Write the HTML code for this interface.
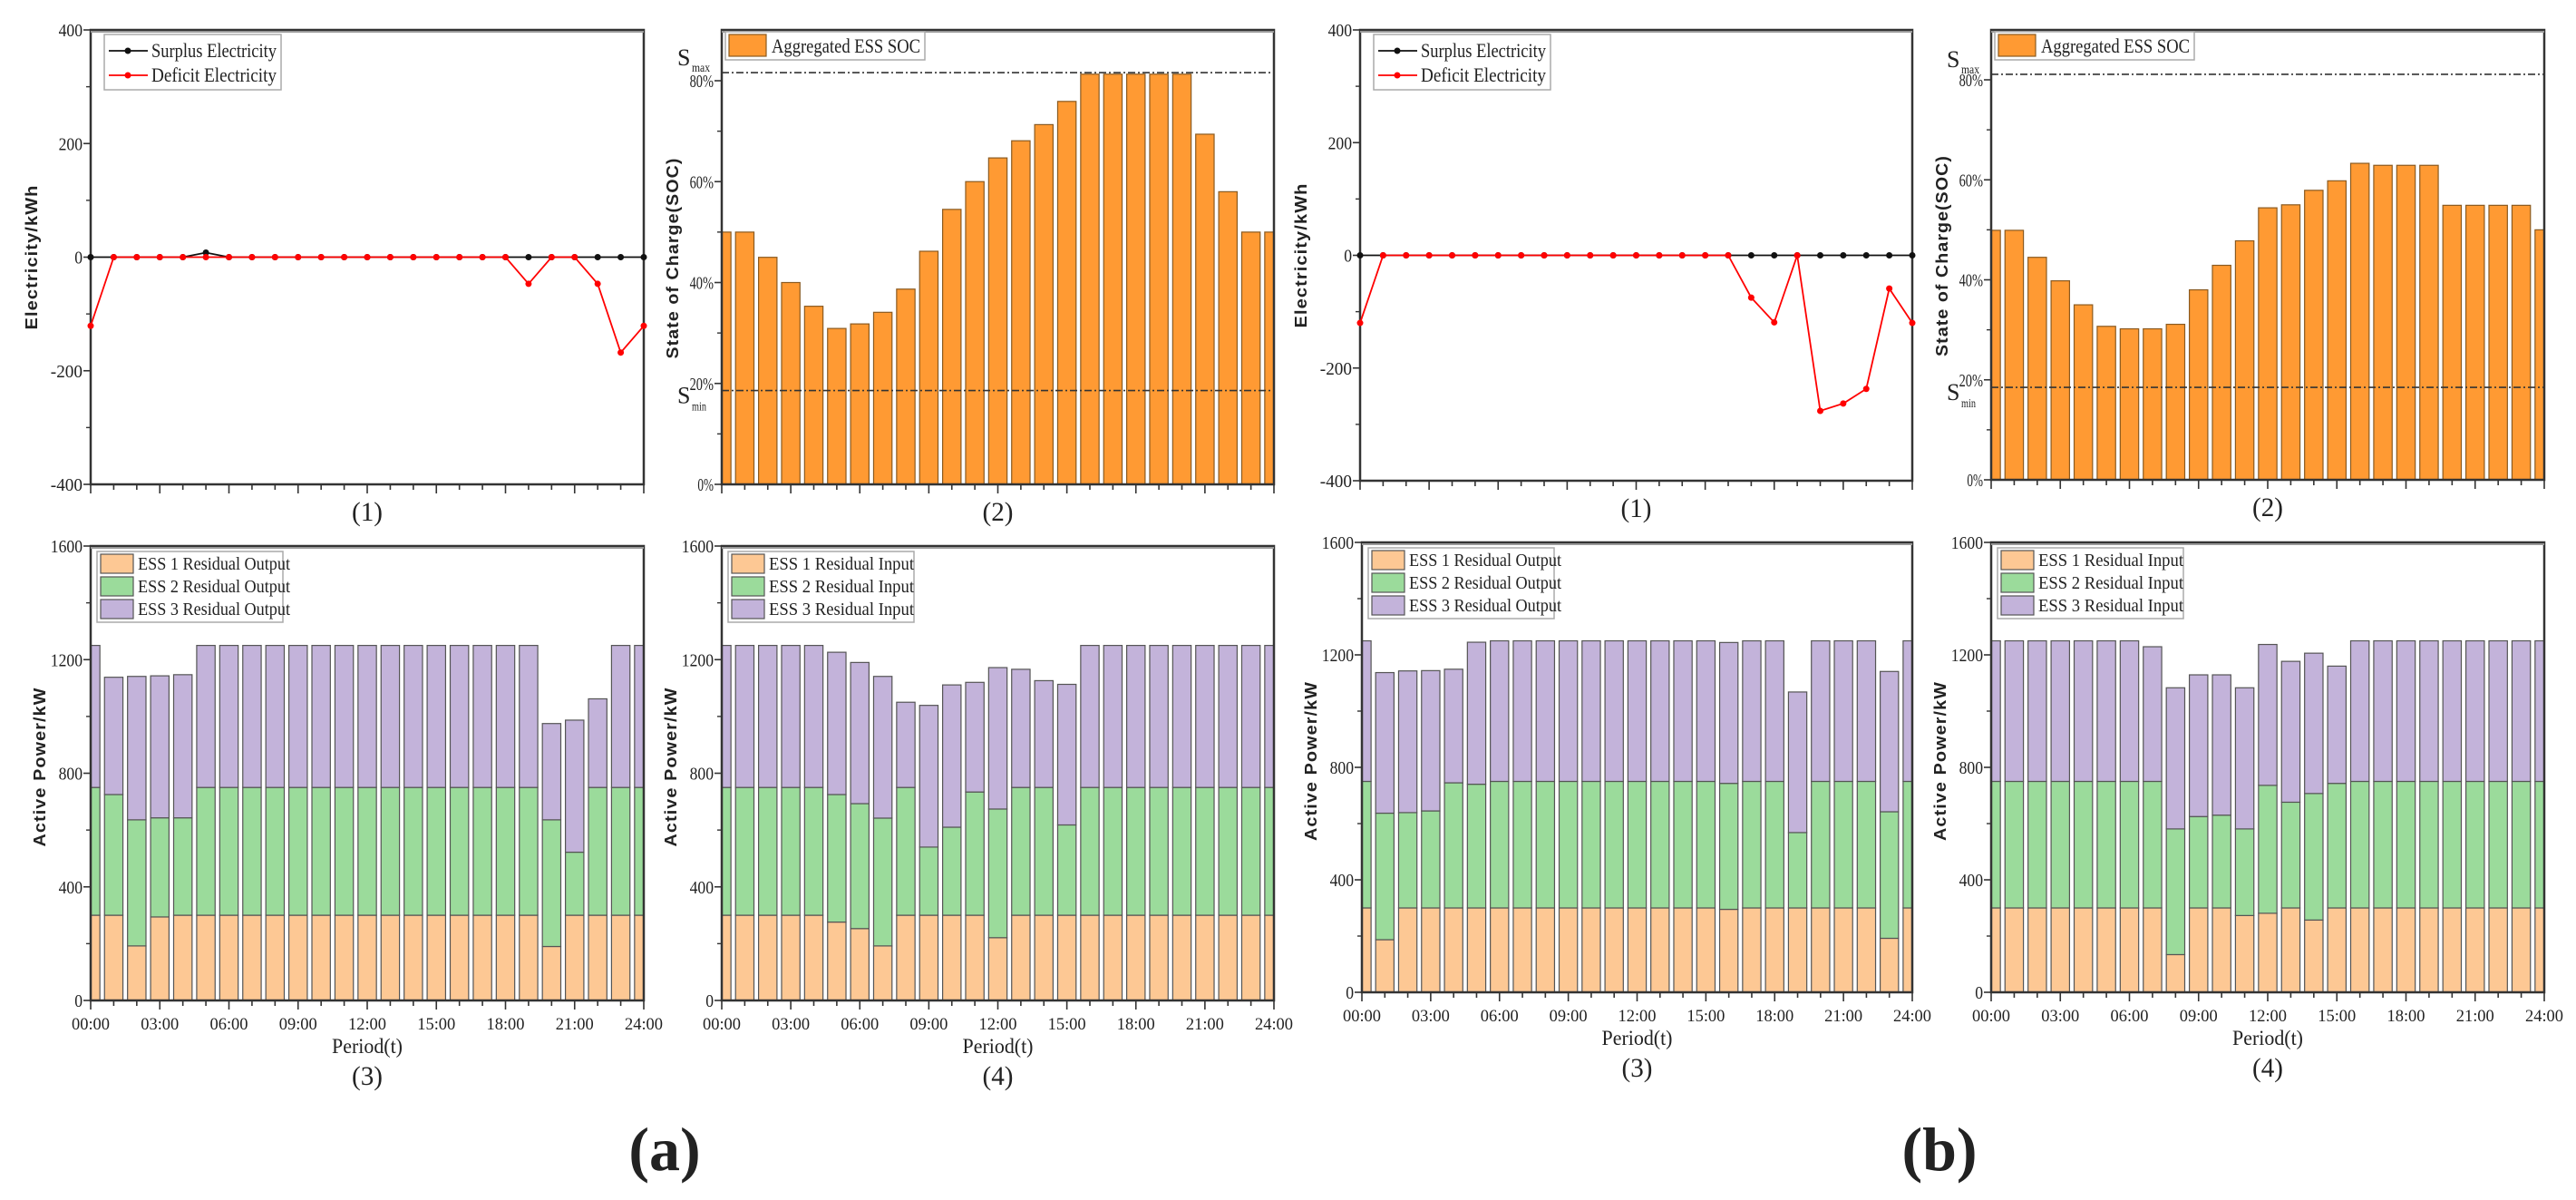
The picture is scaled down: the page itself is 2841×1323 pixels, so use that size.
<!DOCTYPE html>
<html><head><meta charset="utf-8">
<style>
html,body{margin:0;padding:0;background:#fff;}
svg{display:block;}
text{font-family:"Liberation Serif",serif;fill:#222;}
.sans{font-family:"Liberation Sans",sans-serif;}
</style></head>
<body>
<svg id="fig" xmlns="http://www.w3.org/2000/svg" width="2841" height="1323" viewBox="0 0 2841 1323">
<rect x="0" y="0" width="2841" height="1323" fill="#fff"/>
<text x="733" y="1290" font-size="68" font-weight="bold" text-anchor="middle">(a)</text>
<text x="2139" y="1290" font-size="68" font-weight="bold" text-anchor="middle">(b)</text>
</svg>
<script>
// ---------- data ----------
const hours = [0,1,2,3,4,5,6,7,8,9,10,11,12,13,14,15,16,17,18,19,20,21,22,23,24];
const xTickLabels = ["00:00","03:00","06:00","09:00","12:00","15:00","18:00","21:00","24:00"];
const elecTicks = [-400,-200,0,200,400];
const socTicks = [0,20,40,60,80];
const socTickLabels = ["0%","20%","40%","60%","80%"];
const powerTicks = [0,400,800,1200,1600];

const aSurplus = [0,0,0,0,0,8,0,0,0,0,0,0,0,0,0,0,0,0,0,0,0,0,0,0,0];
const aDeficit = [-121,0,0,0,0,0,0,0,0,0,0,0,0,0,0,0,0,0,0,-47,0,0,-47,-168,-121];
const bSurplus = [0,0,0,0,0,0,0,0,0,0,0,0,0,0,0,0,0,0,0,0,0,0,0,0,0];
const bDeficit = [-120,0,0,0,0,0,0,0,0,0,0,0,0,0,0,0,0,-75,-119,0,-276,-263,-237,-59,-120];

const aSoc = [50,50,45,40,35.3,30.9,31.8,34.1,38.7,46.2,54.5,60,64.7,68.1,71.3,75.9,81.3,81.3,81.3,81.3,81.3,69.4,58,50,50];
const bSoc = [49.9,49.9,44.5,39.8,35,30.7,30.2,30.2,31.1,38,42.9,47.8,54.4,55,57.9,59.8,63.3,62.9,62.9,62.9,54.9,54.9,54.9,54.9,50];
const aSocMax = 81.6, aSocMin = 18.6, bSocMax = 81.1, bSocMin = 18.5;

const a3Ess1 = [300,300,192,294,300,300,300,300,300,300,300,300,300,300,300,300,300,300,300,300,190,300,300,300,300];
const a3Ess2 = [450,425,444,349,343,450,450,450,450,450,450,450,450,450,450,450,450,450,450,450,446,222,450,450,450];
const a3Ess3 = [500,413,505,500,504,500,500,500,500,500,500,500,500,500,500,500,500,500,500,500,339,465,312,500,500];

const a4Ess1 = [300,300,300,300,300,276,253,192,300,300,300,300,221,300,300,300,300,300,300,300,300,300,300,300,300];
const a4Ess2 = [450,450,450,450,450,449,440,450,450,240,310,434,453,450,450,318,450,450,450,450,450,450,450,450,450];
const a4Ess3 = [500,500,500,500,500,501,497,499,300,499,501,386,498,416,376,495,500,500,500,500,500,500,500,500,500];

const b3Ess1 = [300,187,300,300,300,300,300,300,300,300,300,300,300,300,300,300,295,300,300,300,300,300,300,192,300];
const b3Ess2 = [450,450,339,345,445,440,450,450,450,450,450,450,450,450,450,450,448,450,450,268,450,450,450,450,450];
const b3Ess3 = [500,500,504,499,404,505,500,500,500,500,500,500,500,500,500,500,501,500,500,500,500,500,500,499,500];

const b4Ess1 = [300,300,300,300,300,300,300,300,134,300,300,273,281,300,257,300,300,300,300,300,300,300,300,300,300];
const b4Ess2 = [450,450,450,450,450,450,450,450,447,325,330,308,455,376,450,443,450,450,450,450,450,450,450,450,450];
const b4Ess3 = [500,500,500,500,500,500,500,479,502,504,499,502,501,501,499,417,500,500,500,500,500,500,500,500,500];

// ---------- drawing ----------
const NS = "http://www.w3.org/2000/svg";
const svg = document.getElementById("fig");
function mk(tag, attrs, parent){
  const e = document.createElementNS(NS, tag);
  for (const k in attrs) e.setAttribute(k, attrs[k]);
  (parent||svg).appendChild(e);
  return e;
}
const C_ESS1="#FDC894", C_ESS2="#9BDB9B", C_ESS3="#C3B3DA", C_SOC="#FF9A33";

function frame(p, name){
  const g = mk("g", {});
  
  
  const r = mk("rect", {x:p.x0, y:p.y0, width:p.x1-p.x0, height:p.y1-p.y0, fill:"none", stroke:"#333", "stroke-width":2.5}, g);
  
  
  const tl = mk("line", {x1:p.x0, x2:p.x1, y1:p.y0+2, y2:p.y0+2, stroke:"#999", "stroke-width":2}, g);
  
  
  return g;
}
function sx(p, v){ return p.x0 + (v - 0) / 24 * (p.x1 - p.x0); }
function sy(p, v){ return p.y1 - (v - p.ymin) / (p.ymax - p.ymin) * (p.y1 - p.y0); }

function xAxis(p, withLabels, g){
  for (let h=0; h<=24; h++){
    const major = h%3===0;
    const t = mk("line", {x1:sx(p,h), x2:sx(p,h), y1:p.y1, y2:p.y1+(major?10:6), stroke:"#333","stroke-width":1.6}, g);
    
    
  }
  if (withLabels){
    xTickLabels.forEach((lab,i)=>{
      const t = mk("text", {x:sx(p,i*3), y:p.y1+32, "font-size":19, "text-anchor":"middle", textLength:42, lengthAdjust:"spacingAndGlyphs"}, g);
      t.textContent = lab;
      
      
    });
    const pt = mk("text", {x:(p.x0+p.x1)/2, y:p.y1+58, "font-size":23, "text-anchor":"middle", textLength:78, lengthAdjust:"spacingAndGlyphs"}, g);
    pt.textContent = "Period(t)";
    
    
  }
}
function yAxis(p, ticks, labels, g){
  ticks.forEach((v,i)=>{
    const y = sy(p,v);
    const t = mk("line", {x1:p.x0-8, x2:p.x0, y1:y, y2:y, stroke:"#333","stroke-width":1.6}, g);
    
    
    if (i<ticks.length-1){
      const ym = sy(p,(v+ticks[i+1])/2);
      const m = mk("line", {x1:p.x0-5, x2:p.x0, y1:ym, y2:ym, stroke:"#333","stroke-width":1.4}, g);
      
      
    }
    const lab = labels ? labels[i] : String(v);
    const tx = mk("text", {x:p.x0-9, y:y+7, "font-size":20, "text-anchor":"end", textLength:lab.length*8.8, lengthAdjust:"spacingAndGlyphs"}, g);
    tx.textContent = lab;
    
    
  });
}
function yTitle(x, y, txt, len, g){
  const t = mk("text", {x:x, y:y, "font-size":18, "text-anchor":"middle", transform:`rotate(-90 ${x} ${y})`, "class":"sans", "font-weight":"bold", fill:"#333", textLength:len, lengthAdjust:"spacingAndGlyphs", "letter-spacing":"1"}, g);
  t.textContent = txt;
  
  
}
function subTitle(x, y, txt, g){
  const t = mk("text", {x:x, y:y, "font-size":30, "text-anchor":"middle", textLength:34, lengthAdjust:"spacingAndGlyphs"}, g);
  t.textContent = txt;
  
  
}

function elecPanel(p, surplus, deficit, name){
  p.ymin=-400; p.ymax=400;
  const g = frame(p, name);
  xAxis(p, false, g);
  yAxis(p, elecTicks, null, g);
  yTitle(p.x0-59, (p.y0+p.y1)/2, "Electricity/kWh", 160, g);
  const series = [[surplus,"#111","surplus-line","surplus-point"],[deficit,"#f00","deficit-line","deficit-point"]];
  series.forEach(s=>{
    const pts = hours.map((h,i)=>sx(p,h)+","+sy(p,s[0][i])).join(" ");
    const l = mk("polyline", {points:pts, fill:"none", stroke:s[1], "stroke-width":1.8}, g);
    
    
    hours.forEach((h,i)=>{
      const c = mk("circle", {cx:sx(p,h), cy:sy(p,s[0][i]), r:3.5, fill:s[1]}, g);
      
      
    });
  });
  const lg = mk("g", {}, g);
  
  
  mk("rect", {x:p.x0+15, y:p.y0+5, width:195, height:61, fill:"#fff", stroke:"#aaa", "stroke-width":1.5}, lg);
  [["Surplus Electricity","#111",p.y0+23],["Deficit Electricity","#f00",p.y0+50]].forEach(e=>{
    const li = mk("line", {x1:p.x0+20, x2:p.x0+63, y1:e[2], y2:e[2], stroke:e[1], "stroke-width":1.8}, lg);
    
    
    mk("circle", {cx:p.x0+41, cy:e[2], r:3.5, fill:e[1]}, lg);
    const t = mk("text", {x:p.x0+67, y:e[2]+7, "font-size":22, textLength:138, lengthAdjust:"spacingAndGlyphs"}, lg);
    t.textContent = e[0];
    
    
  });
  subTitle((p.x0+p.x1)/2, p.y1+40, "(1)", g);
}

function clipFor(p, id){
  const cp = mk("clipPath", {id:id});
  mk("rect", {x:p.x0, y:p.y0, width:p.x1-p.x0, height:p.y1-p.y0}, cp);
  return "url(#"+id+")";
}

function socPanel(p, soc, smax, smin, name){
  p.ymin=0;
  p.ymax = p.socTop;
  const clip = clipFor(p, name+"-clip");
  const bg = mk("g", {"clip-path":clip});
  
  
  hours.forEach((h,i)=>{
    const x = sx(p,h-0.4), w = sx(p,h+0.4)-x, y = sy(p,soc[i]);
    const b = mk("rect", {x:x, y:y, width:w, height:p.y1-y, fill:C_SOC, stroke:"#8a5a20", "stroke-width":1.2}, bg);
    
    
  });
  [[smax,"s-max-line"],[smin,"s-min-line"]].forEach(s=>{
    const l = mk("line", {x1:p.x0, x2:p.x1, y1:sy(p,s[0]), y2:sy(p,s[0]), stroke:"#333", "stroke-width":1.6, "stroke-dasharray":"8 3 2 3"});
    
    
  });
  const g = frame(p, name);
  xAxis(p, false, g);
  yAxis(p, socTicks, socTickLabels, g);
  yTitle(p.x0-48, (p.y0+p.y1)/2+1, "State of Charge(SOC)", 222, g);
  const smaxT = mk("text", {x:p.x0-49, y:sy(p,smax)-8, "font-size":26}, g);
  smaxT.textContent = "S";
  
  
  const smaxS = mk("text", {x:p.x0-33, y:sy(p,smax)-1, "font-size":14, textLength:20, lengthAdjust:"spacingAndGlyphs"}, g);
  smaxS.textContent = "max";
  
  
  const sminT = mk("text", {x:p.x0-49, y:sy(p,smin)+14, "font-size":26}, g);
  sminT.textContent = "S";
  
  
  const sminS = mk("text", {x:p.x0-33, y:sy(p,smin)+22, "font-size":14, textLength:16, lengthAdjust:"spacingAndGlyphs"}, g);
  sminS.textContent = "min";
  
  
  const lg = mk("g", {}, g);
  
  
  mk("rect", {x:p.x0+4, y:p.y0+2, width:220, height:31, fill:"#fff", stroke:"#aaa", "stroke-width":1.5}, lg);
  const sw = mk("rect", {x:p.x0+8, y:p.y0+5, width:41, height:24, fill:C_SOC, stroke:"#8a5a20", "stroke-width":1.2}, lg);
  
  
  const lt = mk("text", {x:p.x0+55, y:p.y0+25, "font-size":22, textLength:164, lengthAdjust:"spacingAndGlyphs"}, lg);
  lt.textContent = "Aggregated ESS SOC";
  
  
  subTitle((p.x0+p.x1)/2, p.y1+40, "(2)", g);
}

function stackPanel(p, e1, e2, e3, labels, name, sub){
  p.ymin=0; p.ymax=1600;
  const clip = clipFor(p, name+"-clip");
  const bg = mk("g", {"clip-path":clip});
  
  
  hours.forEach((h,i)=>{
    const x = sx(p,h-0.4), w = sx(p,h+0.4)-x;
    let base = 0;
    [[e1[i],C_ESS1,"bar-ess1"],[e2[i],C_ESS2,"bar-ess2"],[e3[i],C_ESS3,"bar-ess3"]].forEach(s=>{
      const yTop = sy(p,base+s[0]), yBot = sy(p,base);
      const b = mk("rect", {x:x, y:yTop, width:w, height:yBot-yTop, fill:s[1], stroke:"#555", "stroke-width":1.2}, bg);
      
      
      base += s[0];
    });
  });
  const g = frame(p, name);
  xAxis(p, true, g);
  yAxis(p, powerTicks, null, g);
  yTitle(p.x0-50, (p.y0+p.y1)/2-7, "Active Power/kW", 176, g);
  const lg = mk("g", {}, g);
  
  
  mk("rect", {x:p.x0+7, y:p.y0+6, width:205, height:78, fill:"#fff", stroke:"#aaa", "stroke-width":1.5}, lg);
  [[C_ESS1,labels[0]],[C_ESS2,labels[1]],[C_ESS3,labels[2]]].forEach((e,k)=>{
    const yy = p.y0+9+k*25;
    const sw = mk("rect", {x:p.x0+11, y:yy, width:36, height:21, fill:e[0], stroke:"#555", "stroke-width":1.2}, lg);
    
    
    const t = mk("text", {x:p.x0+52, y:yy+17, "font-size":20, textLength:e[1].length*8.0, lengthAdjust:"spacingAndGlyphs"}, lg);
    t.textContent = e[1];
    
    
  });
  subTitle((p.x0+p.x1)/2, p.y1+93, sub, g);
}

const A1 = {x0:100, x1:710, y0:33, y1:534};
const A2 = {x0:796, x1:1405, y0:33, y1:534, socTop:(534-33)/((534-89)/80)};
const B1 = {x0:1500, x1:2109, y0:33, y1:530};
const B2 = {x0:2196, x1:2806, y0:33, y1:529, socTop:(529-33)/((529-88)/80)};
const A3 = {x0:100, x1:710, y0:602, y1:1103};
const A4 = {x0:796, x1:1405, y0:602, y1:1103};
const B3 = {x0:1502, x1:2109, y0:598, y1:1094};
const B4 = {x0:2196, x1:2806, y0:598, y1:1094};

const outLabels = ["ESS 1 Residual Output","ESS 2 Residual Output","ESS 3 Residual Output"];
const inLabels = ["ESS 1 Residual Input","ESS 2 Residual Input","ESS 3 Residual Input"];

elecPanel(A1, aSurplus, aDeficit, "a1-electricity-chart");
socPanel(A2, aSoc, aSocMax, aSocMin, "a2-soc-chart");
elecPanel(B1, bSurplus, bDeficit, "b1-electricity-chart");
socPanel(B2, bSoc, bSocMax, bSocMin, "b2-soc-chart");
stackPanel(A3, a3Ess1, a3Ess2, a3Ess3, outLabels, "a3-output-chart", "(3)");
stackPanel(A4, a4Ess1, a4Ess2, a4Ess3, inLabels, "a4-input-chart", "(4)");
stackPanel(B3, b3Ess1, b3Ess2, b3Ess3, outLabels, "b3-output-chart", "(3)");
stackPanel(B4, b4Ess1, b4Ess2, b4Ess3, inLabels, "b4-input-chart", "(4)");
</script>
</body></html>
